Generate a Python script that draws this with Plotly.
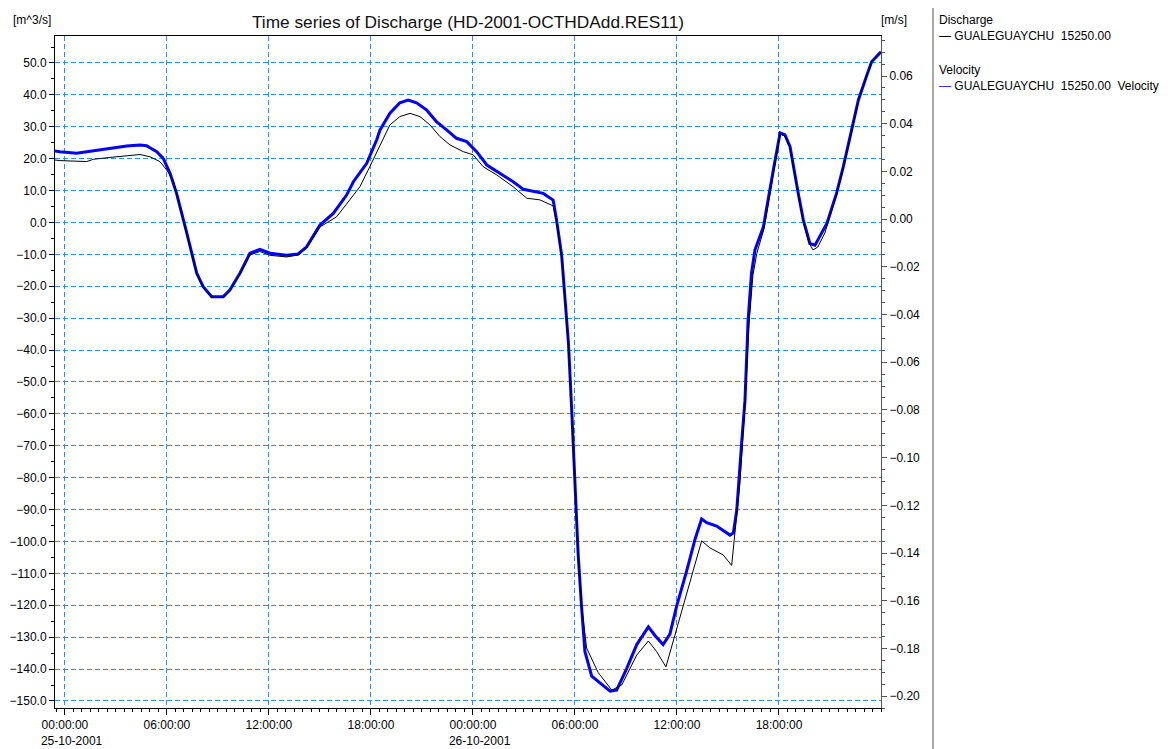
import plotly.graph_objects as go

# ---------------- data ----------------
vel_time = ["2001-10-24 23:25","2001-10-24 23:42","2001-10-25 00:41","2001-10-25 01:39","2001-10-25 02:39",
"2001-10-25 03:38","2001-10-25 04:25","2001-10-25 04:48","2001-10-25 05:24","2001-10-25 05:47",
"2001-10-25 06:11","2001-10-25 06:34","2001-10-25 07:10","2001-10-25 07:45","2001-10-25 08:08",
"2001-10-25 08:38","2001-10-25 09:19","2001-10-25 09:42","2001-10-25 10:18","2001-10-25 10:53",
"2001-10-25 11:28","2001-10-25 12:04","2001-10-25 13:02","2001-10-25 13:43","2001-10-25 14:13",
"2001-10-25 15:00","2001-10-25 15:47","2001-10-25 16:34","2001-10-25 16:58","2001-10-25 17:45",
"2001-10-25 18:20","2001-10-25 18:32","2001-10-25 19:07","2001-10-25 19:42","2001-10-25 20:11",
"2001-10-25 20:41","2001-10-25 21:17","2001-10-25 21:52","2001-10-25 22:27","2001-10-25 23:02",
"2001-10-25 23:38","2001-10-26 00:13","2001-10-26 00:49","2001-10-26 01:35","2001-10-26 02:22",
"2001-10-26 02:58","2001-10-26 03:33","2001-10-26 04:08","2001-10-26 04:43","2001-10-26 04:55",
"2001-10-26 05:13","2001-10-26 05:25","2001-10-26 05:37","2001-10-26 05:49","2001-10-26 06:00",
"2001-10-26 06:11","2001-10-26 06:23","2001-10-26 06:35","2001-10-26 06:59","2001-10-26 07:22",
"2001-10-26 08:04","2001-10-26 08:27","2001-10-26 09:02","2001-10-26 09:38","2001-10-26 10:19",
"2001-10-26 10:43","2001-10-26 11:11","2001-10-26 11:35","2001-10-26 11:59","2001-10-26 12:34",
"2001-10-26 13:04","2001-10-26 13:27","2001-10-26 13:45","2001-10-26 14:20","2001-10-26 15:07",
"2001-10-26 15:19","2001-10-26 15:31","2001-10-26 15:49","2001-10-26 16:00","2001-10-26 16:11",
"2001-10-26 16:23","2001-10-26 16:35","2001-10-26 17:05","2001-10-26 17:40","2001-10-26 18:04",
"2001-10-26 18:21","2001-10-26 18:39","2001-10-26 19:08","2001-10-26 19:26","2001-10-26 19:49",
"2001-10-26 20:07","2001-10-26 20:49","2001-10-26 21:23","2001-10-26 21:47","2001-10-26 22:17",
"2001-10-26 22:40","2001-10-26 23:10","2001-10-26 23:27","2001-10-27 00:00"]

velocity = [0.0286,0.0283,0.0276,0.0286,0.0297,0.0307,0.0311,0.0308,0.0283,0.0255,
0.0192,0.0108,-0.0058,-0.0226,-0.0283,-0.0325,-0.0325,-0.0297,-0.0226,-0.0143,
-0.0127,-0.0143,-0.0151,-0.0146,-0.0116,-0.0025,0.0024,0.0101,0.0157,0.0234,
0.0332,0.0374,0.0444,0.0488,0.0499,0.0488,0.0457,0.0408,0.0374,0.0339,
0.0325,0.0283,0.0227,0.0192,0.0157,0.0125,0.0115,0.0108,0.0080,-0.0004,
-0.0151,-0.0327,-0.0520,-0.0813,-0.1107,-0.1400,-0.1622,-0.1813,-0.1916,-0.1937,
-0.1979,-0.1975,-0.1886,-0.1784,-0.1710,-0.1747,-0.1784,-0.1740,-0.1622,-0.1476,
-0.1341,-0.1257,-0.1273,-0.1287,-0.1325,-0.1316,-0.1220,-0.0926,-0.0759,-0.0423,
-0.0227,-0.0130,-0.0032,0.0206,0.0362,0.0353,0.0304,0.0108,-0.0004,-0.0102,
-0.0109,-0.0018,0.0108,0.0220,0.0374,0.0499,0.0604,0.0660,0.0702]

dis_time = ["2001-10-24 23:25","2001-10-24 23:42","2001-10-25 01:17","2001-10-25 01:40","2001-10-25 02:39",
"2001-10-25 03:38","2001-10-25 04:25","2001-10-25 05:00","2001-10-25 05:35","2001-10-25 05:59",
"2001-10-25 06:22","2001-10-25 06:34","2001-10-25 07:10","2001-10-25 07:45","2001-10-25 08:08",
"2001-10-25 08:38","2001-10-25 09:19","2001-10-25 09:42","2001-10-25 10:18","2001-10-25 10:53",
"2001-10-25 11:28","2001-10-25 12:04","2001-10-25 13:02","2001-10-25 13:43","2001-10-25 14:13",
"2001-10-25 15:00","2001-10-25 15:59","2001-10-25 16:46","2001-10-25 17:21","2001-10-25 17:56",
"2001-10-25 18:32","2001-10-25 19:07","2001-10-25 19:42","2001-10-25 20:18","2001-10-25 20:53",
"2001-10-25 21:28","2001-10-25 22:04","2001-10-25 22:39","2001-10-25 23:26","2001-10-26 00:01",
"2001-10-26 00:36","2001-10-26 01:24","2001-10-26 02:22","2001-10-26 03:10","2001-10-26 03:56",
"2001-10-26 04:43","2001-10-26 04:55","2001-10-26 05:13","2001-10-26 05:25","2001-10-26 05:37",
"2001-10-26 05:49","2001-10-26 06:00","2001-10-26 06:11","2001-10-26 06:23","2001-10-26 06:41",
"2001-10-26 07:22","2001-10-26 08:10","2001-10-26 08:45","2001-10-26 09:38","2001-10-26 10:19",
"2001-10-26 10:48","2001-10-26 11:21","2001-10-26 11:47","2001-10-26 12:34","2001-10-26 13:27",
"2001-10-26 13:56","2001-10-26 14:43","2001-10-26 15:13","2001-10-26 15:31","2001-10-26 15:42",
"2001-10-26 16:00","2001-10-26 16:14","2001-10-26 16:28","2001-10-26 16:42","2001-10-26 17:07",
"2001-10-26 17:40","2001-10-26 18:04","2001-10-26 18:21","2001-10-26 18:39","2001-10-26 19:08",
"2001-10-26 19:26","2001-10-26 19:46","2001-10-26 20:00","2001-10-26 20:17","2001-10-26 20:42",
"2001-10-26 21:23","2001-10-26 21:47","2001-10-26 22:17","2001-10-26 22:40","2001-10-26 23:10",
"2001-10-26 23:27","2001-10-27 00:00"]

discharge = [19.6,19.4,19.1,19.8,20.4,20.8,21.3,20.6,19.1,16.5,
13.3,9.2,-3.6,-16.1,-20.5,-23.5,-23.5,-21.5,-16.1,-10.2,
-9.1,-10.3,-10.8,-10.2,-8.0,-1.4,1.8,7.1,11.2,17.5,
24.3,30.6,33.2,34.2,33.2,30.6,26.9,24.3,22.2,21.2,
17.5,14.9,11.2,7.6,7.1,5.2,0.2,-10.8,-24.0,-38.4,
-60.3,-82.3,-104.2,-119.9,-133.4,-141.1,-146.6,-145.0,-135.6,-131.2,
-134.5,-139.3,-131.2,-116.9,-99.8,-102.0,-104.2,-107.5,-92.6,-81.7,
-57.2,-32.1,-16.5,-9.6,-2.0,15.8,27.7,27.1,23.4,8.6,
0.2,-6.4,-8.6,-7.7,-3.3,8.6,17.1,28.7,38.1,45.9,
50.2,53.3]

x_tick_vals = ["2001-10-25 00:00","2001-10-25 06:00","2001-10-25 12:00","2001-10-25 18:00",
               "2001-10-26 00:00","2001-10-26 06:00","2001-10-26 12:00","2001-10-26 18:00"]
NB = "\u00a0"
x_tick_text = ["00:00:00<br>" + NB*4 + "25-10-2001", "06:00:00", "12:00:00", "18:00:00",
               "00:00:00<br>" + NB*4 + "26-10-2001", "06:00:00", "12:00:00", "18:00:00"]

title_text = "Time series of Discharge (HD-2001-OCTHDAdd.RES11)"
series_name = "GUALEGUAYCHU" + NB*2 + "15250.00"

# ---------------- figure ----------------
FONT = "Liberation Sans, Arial, sans-serif"
GRID = "#2f8cff"
OFF = 8  # page body margin of the html page

fig = go.Figure()
fig.add_trace(go.Scatter(x=vel_time, y=velocity, mode="lines", yaxis="y",
                         line=dict(color="#0000ff", width=3), name=series_name + NB*2 + "Velocity"))
fig.add_trace(go.Scatter(x=dis_time, y=discharge, mode="lines", yaxis="y2",
                         line=dict(color="#000000", width=1), name=series_name))

fig.update_layout(
    template="none",
    width=1172, height=749,
    margin=dict(l=55 - OFF, r=1172 - 881 + OFF, t=36 - OFF, b=749 - 708 + OFF, pad=0, autoexpand=False),
    paper_bgcolor="white", plot_bgcolor="white",
    showlegend=False,
    font=dict(family=FONT, size=12, color="black"),
    title=dict(text=title_text, x=(468 - OFF) / 1172, xanchor="center", y=1 - (22 - OFF) / 749,
               yanchor="middle", font=dict(family=FONT, size=17.3, color="#111")),
    xaxis=dict(
        type="date", automargin=False,
        range=["2001-10-24 23:25", "2001-10-27 00:00"],
        tickmode="array", tickvals=x_tick_vals, ticktext=x_tick_text,
        ticks="outside", ticklen=6, tickcolor="black", tickwidth=1,
        showline=True, linecolor="black", linewidth=1, mirror=True,
        showgrid=True, gridcolor=GRID, griddash="5px,3px", gridwidth=1,
        zeroline=False,
        minor=dict(ticks="outside", ticklen=3, dtick=30 * 60 * 1000, tick0="2001-10-25 00:00",
                   tickcolor="black", showgrid=False),
        tickfont=dict(family=FONT, size=12, color="black"),
    ),
    yaxis=dict(
        side="right", automargin=False,
        range=[-0.205, 0.0768],
        tickmode="linear", tick0=0, dtick=0.02, tickformat=".2f",
        ticks="outside", ticklen=5, tickcolor="#555", tickwidth=1,
        showline=True, linecolor="#555", linewidth=1,
        showgrid=False, zeroline=False,
        minor=dict(ticks="outside", ticklen=3, dtick=0.005, tick0=0, tickcolor="#555", showgrid=False),
        tickfont=dict(family=FONT, size=12, color="black"),
    ),
    yaxis2=dict(
        side="left", overlaying="y", anchor="x", automargin=False,
        range=[-152.2, 58.46],
        tickmode="linear", tick0=0, dtick=10, tickformat=".1f",
        ticks="outside", ticklen=5, tickcolor="black", tickwidth=1,
        showline=True, linecolor="black", linewidth=1,
        showgrid=True, gridcolor=GRID, griddash="5px,3px", gridwidth=1,
        zeroline=False,
        minor=dict(ticks="outside", ticklen=3, dtick=5, tick0=0, tickcolor="black", showgrid=False),
        tickfont=dict(family=FONT, size=12, color="black"),
    ),
)

# paper coordinates (plot area spans page px x 55..881, y 36..708)
def px_x(X):
    return (X - 55) / 826

def px_y(Y):
    return (708 - Y) / 672

# unit labels
fig.add_annotation(text="[m^3/s]", xref="paper", yref="paper", x=px_x(32), y=px_y(20),
                   xanchor="center", yanchor="middle", showarrow=False, font=dict(family=FONT, size=12))
fig.add_annotation(text="[m/s]", xref="paper", yref="paper", x=px_x(894), y=px_y(20),
                   xanchor="center", yanchor="middle", showarrow=False, font=dict(family=FONT, size=12))

# legend panel (text)
legend_rows = [
    ("Discharge", 20),
    ("<span style='color:#000000'>—</span>" + NB + series_name, 36),
    ("Velocity", 70),
    ("<span style='color:#3333ff'>—</span>" + NB + series_name + NB*2 + "Velocity", 86),
]
for txt, ypx in legend_rows:
    fig.add_annotation(text=txt, xref="paper", yref="paper", x=px_x(937), y=px_y(ypx),
                       xanchor="left", yanchor="middle", showarrow=False, align="left",
                       font=dict(family=FONT, size=12, color="black"))

# separator line of legend panel
fig.add_shape(type="line", xref="paper", yref="paper",
              x0=px_x(933), x1=px_x(933), y0=px_y(4), y1=px_y(760),
              line=dict(color="#555", width=1))

fig.write_html("out.html")
